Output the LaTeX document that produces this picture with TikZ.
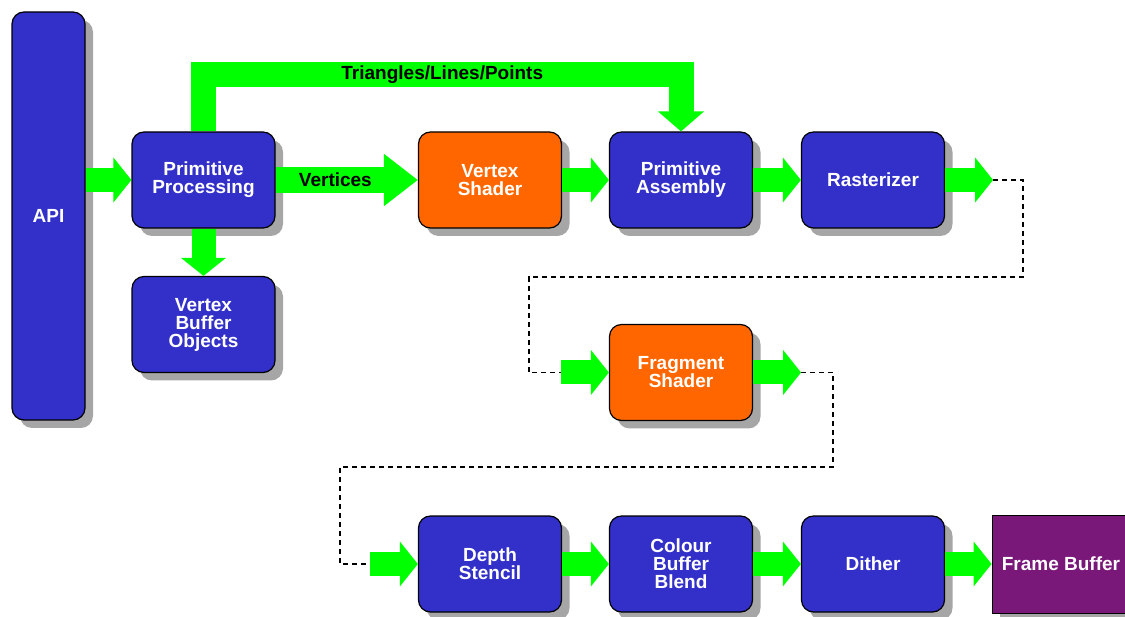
\documentclass[tikz,border=0pt]{standalone}
\usepackage{fontspec}
\setmainfont{Liberation Sans}
\usepackage{tikz}
\usetikzlibrary{calc}
\usetikzlibrary{arrows.meta}
\usetikzlibrary{shadows}
\definecolor{StageBlue}{RGB}{50,48,200}
\definecolor{ShaderOrange}{RGB}{255,102,0}
\definecolor{BufferPurple}{RGB}{122,24,122}
\definecolor{FlowGreen}{RGB}{0,255,0}

\begin{document}
\begin{tikzpicture}[x=1pt, y=-1pt,
    stage/.style={draw=black, line width=1.2pt, rounded corners=12pt, fill=StageBlue,
        text=white, font=\bfseries\fontsize{19}{18}\selectfont, align=center,
        minimum width=143pt, minimum height=96pt, inner sep=0pt,
        drop shadow={shadow xshift=8pt, shadow yshift=-8pt, fill=black!35, opacity=1}},
    shader/.style={stage, fill=ShaderOrange},
    flow/.style={draw=FlowGreen, line width=24pt, -{Triangle[width=44pt,length=18pt]}},
    link/.style={draw=black, line width=1.3pt, dash pattern=on 5pt off 4pt},
    tag/.style={text=black, font=\bfseries\fontsize{19}{18}\selectfont}]
        \def\top{180}
        \def\mid{372.5}
        \def\low{564}

        \useasboundingbox (0,0) rectangle (1125,617);

        \node[stage, minimum width=73pt, minimum height=408pt] (api) at (48.5,216) {API};
        \node[stage] (pp) at (203.5,\top) {Primitive\\Processing};
        \node[stage] (vbo) at (203.5,324.5) {Vertex\\Buffer\\Objects};
        \node[shader] (vs) at (490,\top) {Vertex\\Shader};
        \node[stage] (pa) at (681,\top) {Primitive\\Assembly};
        \node[stage] (ras) at (873,\top) {Rasterizer};
        \node[shader] (fs) at (681,\mid) {Fragment\\Shader};
        \node[stage] (ds) at (490,\low) {Depth\\Stencil};
        \node[stage] (cbb) at (681,\low) {Colour\\Buffer\\Blend};
        \node[stage] (dith) at (873,\low) {Dither};
        \node[stage, sharp corners, line width=0.8pt, fill=BufferPurple, minimum width=138pt, minimum height=98pt] (fb) at (1061,\low) {Frame Buffer};

        \coordinate (bend) at ($(pp.north)+(0,-57)$);
        \coordinate (rout) at ($(ras.east)+(48,0)$);
        \coordinate (fin) at ($(fs.west)-(48,0)$);
        \coordinate (fout) at ($(fs.east)+(48,0)$);
        \coordinate (din) at ($(ds.west)-(48,0)$);

        \draw[flow] (api.east |- pp.west) -- (pp.west);
        \draw[flow] (pp.south) -- (vbo.north);
        \draw[flow, line width=26pt, -{Triangle[width=50pt,length=34pt]}] (pp.east) -- (vs.west) node[pos=0.42, tag] {Vertices};
        \draw[flow, line width=25pt, -{Triangle[width=45pt,length=20pt]}] (pp.north) -- (bend) -| (pa.north) node[pos=0.25, tag] {Triangles/Lines/Points};
        \draw[flow] (vs.east) -- (pa.west);
        \draw[flow] (pa.east) -- (ras.west);
        \draw[flow] (ras.east) -- (rout);

        \draw[link] (rout) -- ++(30,0) -- ++(0,97) -| ($(fin)-(32,0)$) -- (fin);
        \draw[flow] (fin) -- (fs.west);
        \draw[flow] (fs.east) -- (fout);
        \draw[link] (fout) -- ++(32,0) -- ++(0,94.5) -| ($(din)-(30,0)$) -- (din);

        \draw[flow] (din) -- (ds.west);
        \draw[flow] (ds.east) -- (cbb.west);
        \draw[flow] (cbb.east) -- (dith.west);
        \draw[flow] (dith.east) -- (fb.west);
    \end{tikzpicture}
\end{document}
